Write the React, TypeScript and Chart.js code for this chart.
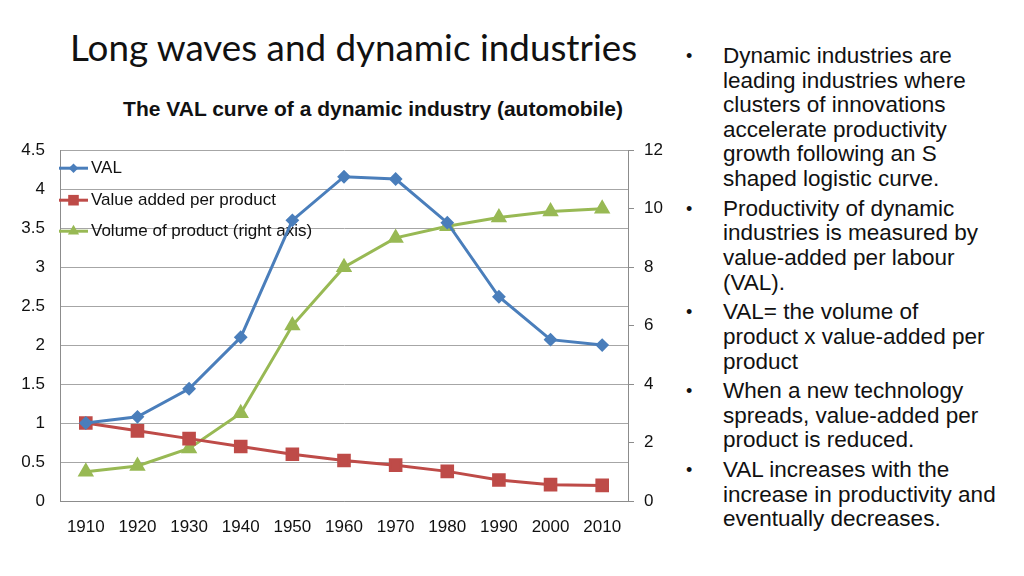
import React, { useEffect, useRef } from "react";
import { Chart, registerables } from "chart.js";

Chart.register(...registerables);

const years = ["1910", "1920", "1930", "1940", "1950", "1960", "1970", "1980", "1990", "2000", "2010"];
const valSeries = [1.0, 1.08, 1.44, 2.1, 3.6, 4.16, 4.13, 3.57, 2.62, 2.07, 2.0];
const valueAddedSeries = [1.0, 0.9, 0.8, 0.7, 0.6, 0.52, 0.46, 0.38, 0.27, 0.21, 0.2];
const volumeSeries = [1.0, 1.2, 1.8, 3.0, 6.0, 8.0, 9.0, 9.4, 9.7, 9.9, 10.0];

const mainTitle = "Long waves and dynamic industries";
const chartTitle = "The VAL curve of a dynamic industry (automobile)";
const bullets: string[][] = [
  ["Dynamic industries are", "leading industries where", "clusters of innovations", "accelerate productivity", "growth following an S", "shaped logistic curve."],
  ["Productivity of dynamic", "industries is measured by", "value-added per labour", "(VAL)."],
  ["VAL= the volume of", "product x value-added per", "product"],
  ["When a new technology", "spreads, value-added per", "product is reduced."],
  ["VAL increases with the", "increase in productivity and", "eventually decreases."],
];

const BLUE = "#4a7ebb";
const RED = "#be4b48";
const GREEN = "#98b954";
const GRID = "#a6a6a6";
const AXIS = "#8c8c8c";
const FONT = "'Liberation Sans', Arial, sans-serif";

const inAreaLegend = {
  id: "inAreaLegend",
  beforeDatasetsDraw(chart: any) {
    const ctx = chart.ctx;
    const area = chart.chartArea;
    const rowY = [18, 50, 81];
    ctx.save();
    chart.data.datasets.forEach((ds: any, i: number) => {
      const y = area.top + rowY[i];
      const x0 = area.left - 1;
      ctx.strokeStyle = ds.borderColor;
      ctx.lineWidth = 3;
      ctx.beginPath();
      ctx.moveTo(x0, y);
      ctx.lineTo(x0 + 29, y);
      ctx.stroke();
      ctx.fillStyle = ds.backgroundColor;
      const cx = x0 + 14.5;
      const r = ds.pointRadius;
      ctx.beginPath();
      if (ds.pointStyle === "rectRot") {
        ctx.moveTo(cx, y - r);
        ctx.lineTo(cx + r, y);
        ctx.lineTo(cx, y + r);
        ctx.lineTo(cx - r, y);
      } else if (ds.pointStyle === "rect") {
        const h = r * Math.SQRT1_2;
        ctx.rect(cx - h, y - h, 2 * h, 2 * h);
      } else {
        ctx.moveTo(cx, y - r);
        ctx.lineTo(cx + r * 0.866, y + r * 0.5);
        ctx.lineTo(cx - r * 0.866, y + r * 0.5);
      }
      ctx.closePath();
      ctx.fill();
      ctx.fillStyle = "#111";
      ctx.font = `17px ${FONT}`;
      ctx.textBaseline = "middle";
      ctx.fillText(ds.label, x0 + 32, y);
    });
    ctx.restore();
  },
};

function ChartBox() {
  const ref = useRef<HTMLCanvasElement | null>(null);
  useEffect(() => {
    if (!ref.current) return;
    const chart = new Chart(ref.current, {
      type: "line",
      data: {
        labels: years,
        datasets: [
          {
            label: "VAL",
            data: valSeries,
            yAxisID: "y",
            borderColor: BLUE,
            backgroundColor: BLUE,
            borderWidth: 3,
            pointStyle: "rectRot",
            pointRadius: 4.8,
            tension: 0,
          },
          {
            label: "Value added per product",
            data: valueAddedSeries,
            yAxisID: "y",
            borderColor: RED,
            backgroundColor: RED,
            borderWidth: 3,
            pointStyle: "rect",
            pointRadius: 7.5,
            tension: 0,
          },
          {
            label: "Volume of product (right axis)",
            data: volumeSeries,
            yAxisID: "y1",
            borderColor: GREEN,
            backgroundColor: GREEN,
            borderWidth: 3,
            pointStyle: "triangle",
            pointRadius: 6.5,
            tension: 0,
          },
        ] as any,
      },
      options: {
        animation: false,
        responsive: false,
        maintainAspectRatio: false,
        layout: { padding: { top: 15, left: 0, right: 0, bottom: 0 } },
        plugins: {
          legend: { display: false },
          title: { display: false },
          tooltip: { enabled: false },
        },
        scales: {
          x: {
            offset: true,
            grid: { display: false, drawTicks: false },
            border: { display: true, color: AXIS, width: 1 },
            ticks: { color: "#111", font: { family: FONT, size: 17 }, padding: 16, maxRotation: 0 },
            afterFit: (s: any) => { s.height = 59; },
          },
          y: {
            position: "left",
            min: 0,
            max: 4.5,
            ticks: {
              stepSize: 0.5,
              color: "#111",
              font: { family: FONT, size: 17 },
              padding: 15,
              callback: (v: any) => `${+v}`,
            },
            grid: { color: GRID, drawTicks: false },
            border: { display: true, color: AXIS, width: 1 },
            afterFit: (s: any) => { s.width = 60; },
          },
          y1: {
            position: "right",
            min: 0,
            max: 12,
            ticks: { stepSize: 2, color: "#111", font: { family: FONT, size: 17 }, padding: 10 },
            grid: { drawOnChartArea: false, drawTicks: true, tickLength: 6, color: AXIS },
            border: { display: true, color: AXIS, width: 1 },
            afterFit: (s: any) => { s.width = 52; },
          },
        },
      } as any,
      plugins: [inAreaLegend],
    });
    return () => chart.destroy();
  }, []);
  return (
    <canvas
      ref={ref}
      width={680}
      height={435}
      style={{ position: "absolute", left: 0, top: 125, width: 680, height: 435 }}
    />
  );
}

export default function App() {
  return (
    <div
      style={{
        position: "fixed",
        left: 0,
        top: 0,
        width: 1024,
        height: 576,
        background: "#fff",
        overflow: "hidden",
      }}
    >
      <div
        style={{
          position: "absolute",
          left: 70,
          top: 23,
          fontFamily: "Lato, 'Open Sans', sans-serif",
          fontSize: 36.8,
          color: "#111",
          whiteSpace: "nowrap",
          lineHeight: "48px",
        }}
      >
        {mainTitle}
      </div>
      <div
        style={{
          position: "absolute",
          left: 112,
          top: 96,
          width: 522,
          textAlign: "center",
          fontFamily: FONT,
          fontSize: 21,
          fontWeight: "bold",
          color: "#111",
          whiteSpace: "nowrap",
          lineHeight: "26px",
        }}
      >
        {chartTitle}
      </div>
      <ChartBox />
      <div style={{ position: "absolute", left: 684, top: 44, width: 340, fontFamily: FONT, color: "#111" }}>
        {bullets.map((lines, i) => (
          <div key={i} style={{ position: "relative", marginBottom: 5.2, paddingLeft: 39, fontSize: 22.5, lineHeight: "24.6px" }}>
            <span style={{ position: "absolute", left: 2, top: 0, fontSize: 18 }}>•</span>
            {lines.map((l, j) => (
              <div key={j} style={{ whiteSpace: "nowrap" }}>{l}</div>
            ))}
          </div>
        ))}
      </div>
    </div>
  );
}
